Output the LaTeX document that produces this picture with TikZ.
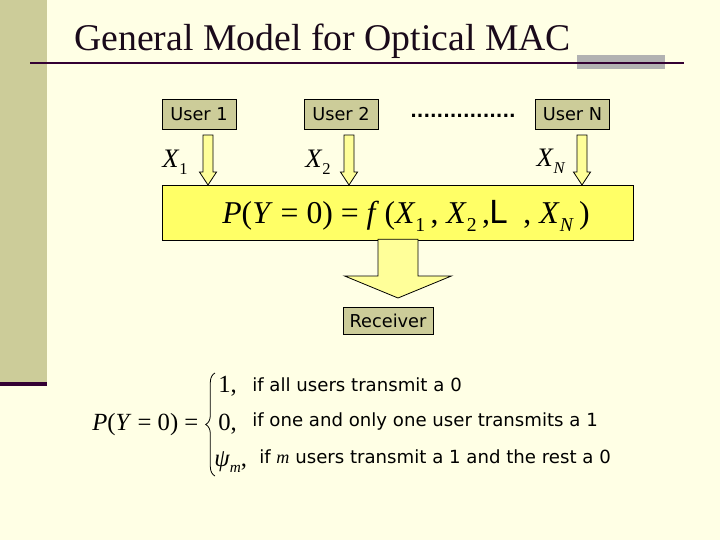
\documentclass[tikz,border=0pt]{standalone}
\usepackage{fontspec}
\setmainfont{Liberation Serif}
\setsansfont{DejaVu Sans}
\usetikzlibrary{calc,decorations.pathreplacing}
\definecolor{bg}{HTML}{FFFFE5}
\definecolor{strip}{HTML}{CCCC99}
\definecolor{dark}{HTML}{330033}
\definecolor{titlecol}{HTML}{1A0A1A}
\definecolor{boxfill}{HTML}{CCCC99}
\definecolor{arrowfill}{HTML}{FFFF99}
\definecolor{mainfill}{HTML}{FFFF66}
\definecolor{grayrect}{HTML}{B2B2B2}
\newcommand\sbs[1]{\raisebox{-0.55ex}{\scalebox{0.62}{#1}}}
\tikzset{
  userbox/.style={draw=black, fill=boxfill, minimum width=55.5pt, minimum height=22.5pt, inner sep=0pt, font=\sffamily\fontsize{13.3}{14}\selectfont},
  blockarrowstyle/.style={draw=black, fill=arrowfill, line width=0.6pt, line join=miter},
  mathlbl/.style={font=\fontsize{20}{22}\selectfont, inner sep=0pt},
  sanstext/.style={anchor=base west, inner sep=0pt, font=\sffamily\fontsize{13.6}{14}\selectfont},
  casetext/.style={anchor=base west, inner sep=0pt, font=\fontsize{18.5}{20}\selectfont}
}
\newcommand\blockarrow[5]{\draw[blockarrowstyle] let \p1=(#1), \p2=(#2) in (\x1-#3pt,\y1) -- (\x1+#3pt,\y1) -- (\x1+#3pt,\y2+#5pt) -- (\x1+#4pt,\y2+#5pt) -- (\x1,\y2) -- (\x1-#4pt,\y2+#5pt) -- (\x1-#3pt,\y2+#5pt) -- cycle;}
\begin{document}
\begin{tikzpicture}[x=0.75pt,y=-0.75pt]
\useasboundingbox (0,0) rectangle (720,540);
\fill[bg] (0,0) rectangle (720,540);
\fill[strip] (0,0) rectangle (47,382);
\fill[dark] (0,382) rectangle (47,386);
\fill[grayrect] (577,55) rectangle (665,69);
\draw[dark, line width=2.2pt] (30,63) -- (661,63);
\draw[dark, line width=1pt] (661,63) -- (684,63);
\node[anchor=base west, inner sep=0pt, text=titlecol, font=\fontsize{28.3}{30}\selectfont] (title) at (74,50) {General Model for Optical MAC};
% users
\node[userbox] (u1) at (199,114) {User 1};
\node[userbox] (u2) at (341,114) {User 2};
\node[userbox] (uN) at (572.5,114) {User N};
\node[font=\sffamily\bfseries\fontsize{13}{14}\selectfont, inner sep=0pt] (dots) at (463,116) {................};
% labels
\node[mathlbl] (x1) at (175,162) {\textit{X}\sbs{1}};
\node[mathlbl] (x2) at (318,162) {\textit{X}\sbs{2}};
\node[mathlbl] (xN) at (551,161) {\textit{X}\sbs{\textit{N}}};
% main box
\node[draw=black, fill=mainfill, line width=0.6pt, minimum width=353.25pt, minimum height=41.25pt, inner sep=0pt] (main) at (397.5,212.5) {};
\node[inner sep=0pt, font=\fontsize{23.8}{26}\selectfont] (ftext) at (406,216) {\textit{P}(\textit{Y} = 0) = \textit{f}\,(\textit{X}\sbs{1}\,, \textit{X}\sbs{2}\,,{\sffamily L}\ \ , \textit{X}\sbs{\textit{N}}\,)};
% arrows
\coordinate (a1s) at (208,135); \coordinate (a1e) at (208,185);
\coordinate (a2s) at (349,135); \coordinate (a2e) at (349,185);
\coordinate (aNs) at (582,135); \coordinate (aNe) at (582,185);
\blockarrow{a1s}{a1e}{3.75}{6.4}{9.75}
\blockarrow{a2s}{a2e}{3.75}{6.4}{9.75}
\blockarrow{aNs}{aNe}{3.75}{6.4}{9.75}
\coordinate (bs) at (398,239.3); \coordinate (be) at (398,298);
\blockarrow{bs}{be}{15}{40}{16.5}
\node[userbox, minimum width=67.5pt, minimum height=20pt] (rx) at (388,321) {Receiver};
% bottom formula
\node[casetext] (pl) at (92,430) {\textit{P}(\textit{Y} = 0) =};
\draw[decorate, decoration={brace, amplitude=7pt}, line width=0.6pt] (215,476) -- (215,373);
\node[casetext] (c1) at (218,392) {1,};
\node[casetext] (c2) at (218,430) {0,};
\node[casetext] (c3) at (214,466) {\textit{ψ}\sbs{\textit{m}},};
\node[sanstext] (t1) at (252,391) {if all users transmit a 0};
\node[sanstext] (t2) at (252,426) {if one and only one user transmits a 1};
\node[sanstext] (t3) at (259,463) {if {\rmfamily\itshape m} users transmit a 1 and the rest a 0};
\end{tikzpicture}
\end{document}
